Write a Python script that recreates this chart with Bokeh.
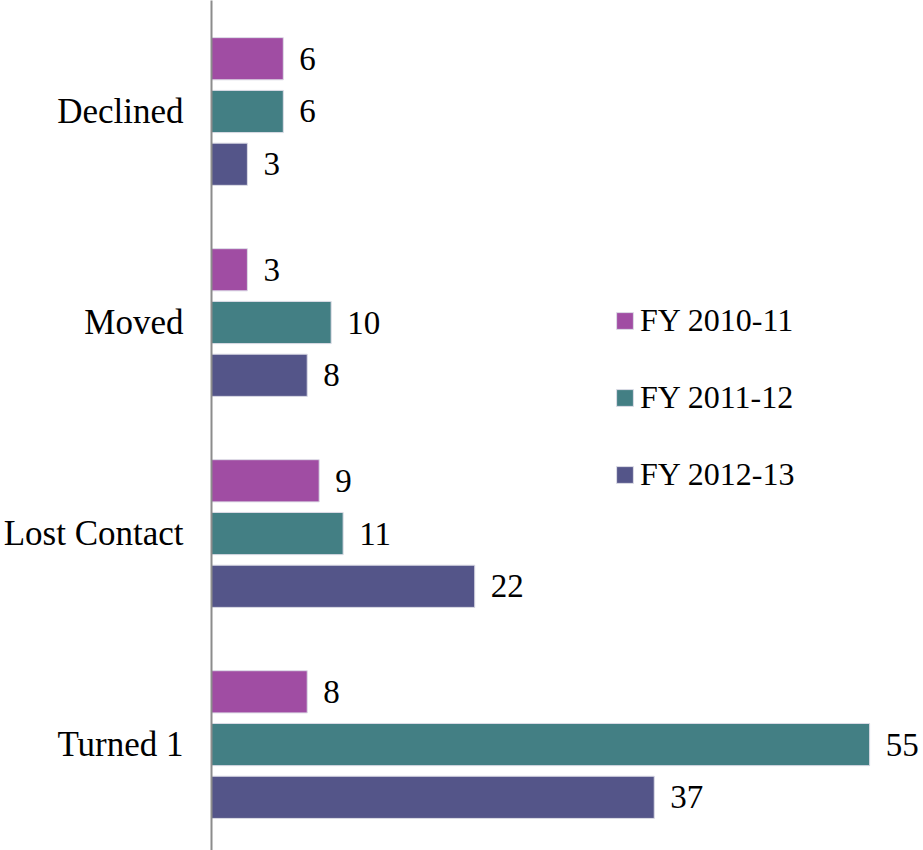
from bokeh.plotting import figure
from bokeh.models import ColumnDataSource, Range1d, FixedTicker, Legend, LegendItem
from bokeh.core.properties import value
from bokeh.embed import file_html
from bokeh.resources import INLINE

categories = ["Declined", "Moved", "Lost Contact", "Turned 1"]
series_names = ["FY 2010-11", "FY 2011-12", "FY 2012-13"]
fy_2010_11 = [6, 3, 9, 8]
fy_2011_12 = [6, 10, 11, 55]
fy_2012_13 = [3, 8, 22, 37]
colors = ["#A04DA3", "#437F84", "#545589"]

FONT = "Liberation Serif"
n = len(categories)
centers = [n - 1 - k for k in range(n)]

p = figure(width=923, height=850, output_backend="svg", toolbar_location=None,
           x_range=Range1d(0, 59.5), y_range=Range1d(-0.502, 3.526),
           min_border_left=205, min_border_right=0, min_border_top=0, min_border_bottom=0)
p.outline_line_color = None
p.xgrid.visible = False
p.ygrid.visible = False
p.xaxis.visible = False

offsets = [0.25, 0.0, -0.25]
items = []
for name, vals, col, off in zip(series_names, [fy_2010_11, fy_2011_12, fy_2012_13], colors, offsets):
    src = ColumnDataSource(dict(y=[c + off for c in centers], v=vals, t=[str(v) for v in vals]))
    r = p.hbar(y="y", right="v", left=0, height=0.2, source=src, fill_color=col,
               line_color="#DCDCE6", line_width=1)
    p.text(x="v", y="y", text="t", source=src, x_offset=16, text_baseline="middle",
           text_align="left", text_font=value(FONT), text_font_size="33px", text_color="#000000")
    items.append(LegendItem(label=name, renderers=[r]))

ax = p.yaxis[0]
ax.ticker = FixedTicker(ticks=centers)
ax.major_label_overrides = {c: cat for c, cat in zip(centers, categories)}
ax.major_tick_line_color = None
ax.minor_tick_line_color = None
ax.axis_line_color = "#8C8C8C"
ax.axis_line_width = 2
ax.major_label_standoff = 22
ax.major_label_text_font = FONT
ax.major_label_text_font_size = "35px"
ax.major_label_text_color = "#000000"

legend = Legend(items=items, location=(403, 357), orientation="vertical",
                glyph_width=21, glyph_height=21, label_standoff=5, spacing=40,
                padding=0, margin=0, border_line_color=None, background_fill_alpha=0,
                label_text_font=FONT, label_text_font_size="32px", label_text_color="#000000")
p.add_layout(legend)

open("out.html", "w").write(file_html(p, INLINE))
